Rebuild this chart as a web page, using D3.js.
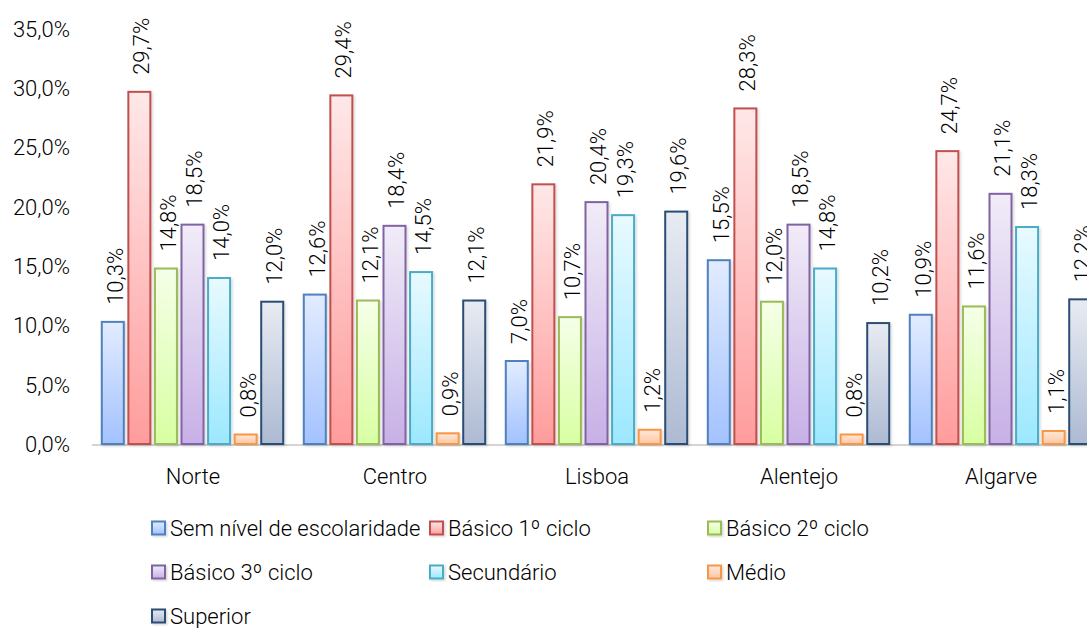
<!DOCTYPE html>
<html><head><meta charset="utf-8">
<script src="https://cdn.jsdelivr.net/npm/d3@7"></script>
<style>
body{margin:0;background:#fff;}
svg{display:block;font-family:Roboto,"Liberation Sans",sans-serif;font-weight:300;}
</style></head><body>
<svg id="c" width="1087" height="628"></svg>
<script>
const regions = ["Norte","Centro","Lisboa","Alentejo","Algarve"];
const series = ["Sem nível de escolaridade","Básico 1º ciclo","Básico 2º ciclo","Básico 3º ciclo","Secundário","Médio","Superior"];
const semNivel   = [10.3,12.6,7.0,15.5,10.9];
const basico1    = [29.7,29.4,21.9,28.3,24.7];
const basico2    = [14.8,12.1,10.7,12.0,11.6];
const basico3    = [18.5,18.4,20.4,18.5,21.1];
const secundario = [14.0,14.5,19.3,14.8,18.3];
const medio      = [0.8,0.9,1.2,0.8,1.1];
const superior   = [12.0,12.1,19.6,10.2,12.2];
const values = [semNivel,basico1,basico2,basico3,secundario,medio,superior];
const yTicks = [0,5,10,15,20,25,30,35];

const colors = [
  {top:"#e2ecff",bot:"#a3c2ff",stroke:"#4f81bd"},
  {top:"#ffe8e8",bot:"#ff9c9c",stroke:"#c0504d"},
  {top:"#f5ffe8",bot:"#d8ffa2",stroke:"#9bbb59"},
  {top:"#f1ecf8",bot:"#c7b0e6",stroke:"#8064a2"},
  {top:"#e8faff",bot:"#9ce8ff",stroke:"#4bacc6"},
  {top:"#ffe8d8",bot:"#ffc6a2",stroke:"#f79646"},
  {top:"#e8ebf2",bot:"#adbad3",stroke:"#2c4d75"}
];

const FS = 22;
const svg = d3.select("#c");
const defs = svg.append("defs");
colors.forEach((c,i)=>{
  const g = defs.append("linearGradient").attr("id","g"+i).attr("x1",0).attr("y1",0).attr("x2",0).attr("y2",1);
  g.append("stop").attr("offset","0%").attr("stop-color",c.top);
  g.append("stop").attr("offset","100%").attr("stop-color",c.bot);
});
const sh = defs.append("filter").attr("id","sh").attr("x","-20%").attr("y","-10%").attr("width","150%").attr("height","130%");
sh.append("feDropShadow").attr("dx",1.5).attr("dy",1.5).attr("stdDeviation",1.2).attr("flood-color","#000").attr("flood-opacity",0.15);

const y = d3.scaleLinear().domain([0,35]).range([444,29]);
const x0 = d3.scaleBand().domain(regions).range([92,1102]);
const x1 = d3.scaleBand().domain(series).range([7.5,193.5]);
const bw = 22;

const fmt = v => d3.format(".1f")(v).replace(".",",")+"%";
svg.append("g").selectAll("text").data(yTicks).join("text")
  .attr("x",70).attr("y",d=>y(d)).attr("dy","0.36em").attr("text-anchor","end")
  .attr("font-size",FS).attr("fill","#000").text(d=>fmt(d));

svg.append("line").attr("x1",92).attr("x2",1102).attr("y1",445).attr("y2",445)
  .attr("stroke","#d4d4d4").attr("stroke-width",2);

const groups = svg.append("g").selectAll("g").data(regions).join("g")
  .attr("transform",d=>`translate(${x0(d)},0)`);
groups.each(function(r,ri){
  const g = d3.select(this);
  series.forEach((s,si)=>{
    const v = values[si][ri];
    const cx = x1(s)+x1.step()/2;
    g.append("rect").attr("x",cx-bw/2).attr("y",y(v)).attr("width",bw).attr("height",y(0)-y(v))
      .attr("fill",`url(#g${si})`).attr("stroke",colors[si].stroke).attr("stroke-width",2)
      .attr("filter","url(#sh)");
    g.append("text").attr("transform",`translate(${cx+2},${y(v)-17}) rotate(-90)`)
      .attr("dy","0.36em").attr("font-size",FS).attr("fill","#000")
      .text(fmt(v));
  });
});

svg.append("g").selectAll("text").data(regions).join("text")
  .attr("x",d=>x0(d)+x0.bandwidth()/2).attr("y",476).attr("dy","0.36em")
  .attr("text-anchor","middle").attr("font-size",FS).attr("fill","#000").text(d=>d);

const legPos = [[152,528],[430,528],[708,528],[152,572],[430,572],[708,572],[152,616]];
const lg = svg.append("g").selectAll("g").data(series).join("g")
  .attr("transform",(d,i)=>`translate(${legPos[i][0]},${legPos[i][1]})`);
lg.append("rect").attr("x",0).attr("y",-6.5).attr("width",13).attr("height",13)
  .attr("fill",(d,i)=>`url(#g${i})`).attr("stroke",(d,i)=>colors[i].stroke).attr("stroke-width",2)
  .attr("filter","url(#sh)");
lg.append("text").attr("x",18).attr("y",0).attr("dy","0.36em").attr("font-size",FS).attr("fill","#000").text(d=>d);
</script></body></html>
